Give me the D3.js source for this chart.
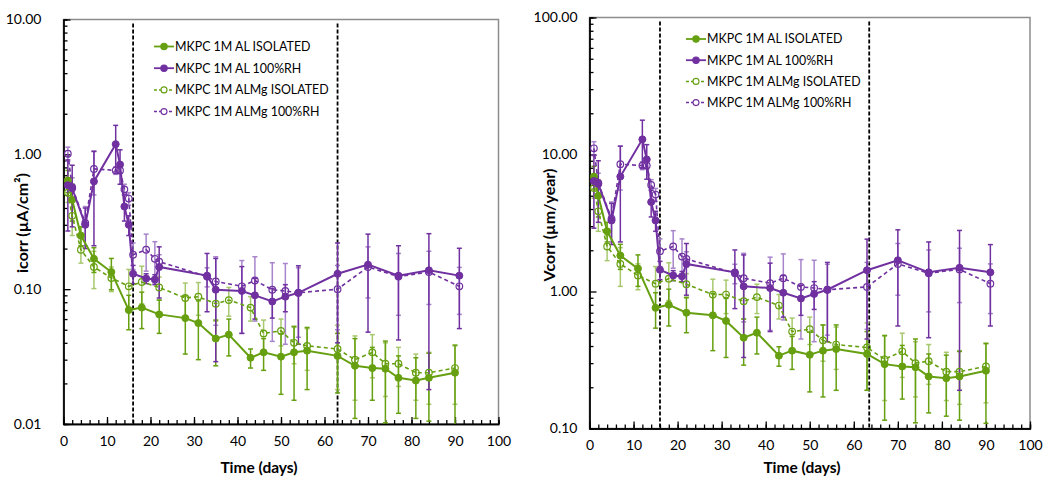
<!DOCTYPE html>
<html>
<head>
<meta charset="utf-8">
<script src="https://cdn.jsdelivr.net/npm/d3@7"></script>
<style>
  body { margin: 0; background: #fff; }
  text { font-family: Lato, "Open Sans", sans-serif; fill: #000; }
</style>
</head>
<body>
<svg id="chart" width="1062" height="478"></svg>
<script>
// ---------------- data ----------------
var legendLabels = ["MKPC 1M AL ISOLATED", "MKPC 1M AL 100%RH", "MKPC 1M ALMg ISOLATED", "MKPC 1M ALMg 100%RH"];
var xTicks = [0, 10, 20, 30, 40, 50, 60, 70, 80, 90, 100];
var stageDays = [16, 63];
var stageDaysRight = [16, 63.5];

// sampling days (isolated series / 100%RH series)
var daysIso = [1, 2, 4, 7, 11, 15, 18, 22, 28, 31, 35, 38, 43, 46, 50, 53, 56, 63, 67, 71, 74, 77, 81, 84, 90];
var daysRH = [1, 2, 5, 7, 12, 13, 14, 15, 16, 19, 21, 22, 33, 35, 41, 44, 48, 51, 54, 63, 70, 77, 84, 91];

// icorr (uA/cm2)
var icorrAlIso = [0.64, 0.46, 0.25, 0.168, 0.134, 0.070, 0.073, 0.065, 0.061, 0.056, 0.043, 0.046, 0.031, 0.034, 0.0316, 0.034, 0.035, 0.032, 0.027, 0.026, 0.0257, 0.022, 0.021, 0.022, 0.024];
var icorrAlIsoErr = [0.12, 0.14, 0.04, 0.035, 0.035, 0.02, 0.022, 0.018, 0.028, 0.026, 0.016, 0.014, 0.005, 0.009, 0.015, 0.019, 0.017, 0.015, 0.016, 0.011, 0.0155, 0.01, 0.01, 0.0115, 0.0145];
var icorrAlRH = [0.59, 0.56, 0.30, 0.63, 1.19, 0.84, 0.41, 0.30, 0.13, 0.12, 0.118, 0.146, 0.126, 0.099, 0.097, 0.090, 0.081, 0.088, 0.094, 0.13, 0.152, 0.126, 0.138, 0.126];
var icorrAlRHErr = [0.32, 0.27, 0.1, 0.42, 0.45, 0.24, 0.09, 0.05, 0.02, 0.01, 0.01, 0.06, 0.058, 0.07, 0.05, 0.03, 0.02, 0.02, 0.055, 0.09, 0.104, 0.084, 0.12, 0.075];
var icorrAlMgIso = [0.52, 0.35, 0.196, 0.146, 0.121, 0.105, 0.113, 0.103, 0.086, 0.088, 0.078, 0.083, 0.073, 0.047, 0.049, 0.040, 0.038, 0.036, 0.030, 0.034, 0.028, 0.028, 0.024, 0.024, 0.026];
var icorrAlMgIsoErr = [0.08, 0.1, 0.04, 0.045, 0.025, 0.035, 0.035, 0.02, 0.025, 0.024, 0.02, 0.02, 0.015, 0.012, 0.011, 0.012, 0.013, 0.018, 0.015, 0.012, 0.012, 0.009, 0.009, 0.01, 0.012];
var icorrAlMgRH = [1.01, 0.57, 0.31, 0.78, 0.76, 0.76, 0.55, 0.47, 0.18, 0.196, 0.168, 0.16, 0.124, 0.114, 0.105, 0.116, 0.099, 0.097, 0.094, 0.10, 0.146, 0.124, 0.134, 0.105];
var icorrAlMgRHErr = [0.12, 0.1, 0.1, 0.28, 0.05, 0.04, 0.05, 0.05, 0.04, 0.06, 0.057, 0.02, 0.02, 0.06, 0.058, 0.058, 0.058, 0.058, 0.05, 0.05, 0.06, 0.06, 0.057, 0.04];

// Vcorr (um/year)
var vcorrAlIso = [6.9, 5.0, 2.75, 1.83, 1.47, 0.76, 0.80, 0.70, 0.67, 0.61, 0.46, 0.50, 0.34, 0.37, 0.345, 0.37, 0.38, 0.35, 0.295, 0.284, 0.28, 0.24, 0.233, 0.24, 0.264];
var vcorrAlIsoErr = [1.3, 1.5, 0.45, 0.38, 0.38, 0.22, 0.24, 0.2, 0.3, 0.28, 0.17, 0.15, 0.055, 0.1, 0.16, 0.2, 0.19, 0.16, 0.18, 0.12, 0.17, 0.11, 0.11, 0.125, 0.155];
var vcorrAlRH = [6.4, 6.1, 3.3, 6.9, 12.9, 9.2, 4.5, 3.3, 1.44, 1.31, 1.29, 1.59, 1.38, 1.09, 1.06, 0.98, 0.89, 0.96, 1.03, 1.43, 1.69, 1.38, 1.49, 1.38];
var vcorrAlRHErr = [3.5, 2.9, 1.1, 4.6, 4.9, 2.6, 1.0, 0.55, 0.22, 0.11, 0.11, 0.65, 0.63, 0.76, 0.55, 0.33, 0.22, 0.22, 0.6, 0.98, 1.13, 0.92, 1.3, 0.82];
var vcorrAlMgIso = [5.7, 3.85, 2.13, 1.59, 1.31, 1.14, 1.24, 1.13, 0.95, 0.95, 0.85, 0.91, 0.79, 0.51, 0.53, 0.44, 0.41, 0.39, 0.32, 0.366, 0.30, 0.31, 0.26, 0.26, 0.284];
var vcorrAlMgIsoErr = [0.9, 1.1, 0.45, 0.5, 0.28, 0.38, 0.38, 0.22, 0.28, 0.26, 0.22, 0.22, 0.16, 0.13, 0.12, 0.13, 0.14, 0.2, 0.16, 0.13, 0.13, 0.1, 0.1, 0.11, 0.13];
var vcorrAlMgRH = [11.1, 6.2, 3.4, 8.5, 8.3, 8.3, 6.0, 5.1, 1.97, 2.13, 1.8, 1.73, 1.36, 1.25, 1.15, 1.25, 1.08, 1.06, 1.03, 1.08, 1.59, 1.36, 1.45, 1.14];
var vcorrAlMgRHErr = [1.3, 1.1, 1.1, 3.0, 0.55, 0.45, 0.55, 0.55, 0.45, 0.65, 0.62, 0.22, 0.22, 0.65, 0.63, 0.63, 0.63, 0.63, 0.55, 0.55, 0.65, 0.65, 0.62, 0.45];

// ---------------- styles ----------------
var green = "#66a010";
var greenLight = "#a8c86e";
var purple = "#7030a0";
var purpleLight = "#a784cb";

var svg = d3.select("#chart");

function makeSeries(days, vals, errs) {
  return days.map(function(d, i) { return { x: d, y: vals[i], e: errs[i] }; });
}

function drawPanel(cfg) {
  var g = svg.append("g");
  var x = d3.scaleLinear().domain([0, 100]).range([cfg.left, cfg.right]);
  var y = d3.scaleLog().domain(cfg.yDomain).range([cfg.bottom, cfg.top]);

  // frame (top/right grey)
  g.append("rect")
    .attr("x", cfg.left).attr("y", cfg.top)
    .attr("width", cfg.right - cfg.left).attr("height", cfg.bottom - cfg.top)
    .attr("fill", "none").attr("stroke", "#8c8c8c").attr("stroke-width", 1.5);

  // log ticks: majors and minors
  var majors = [], minors = [];
  var lo = Math.log10(cfg.yDomain[0]), hi = Math.log10(cfg.yDomain[1]);
  for (var p = lo; p <= hi; p++) {
    majors.push(Math.pow(10, p));
    if (p < hi) for (var k = 2; k <= 9; k++) minors.push(k * Math.pow(10, p));
  }

  var yMinor = g.append("g").attr("transform", "translate(" + cfg.left + ",0)")
    .call(d3.axisLeft(y).tickValues(minors).tickSize(-4).tickFormat(""));
  var yMajor = g.append("g").attr("transform", "translate(" + cfg.left + ",0)")
    .call(d3.axisLeft(y).tickValues(majors).tickSizeInner(-7).tickSizeOuter(0)
      .tickPadding(cfg.yLabelGap).tickFormat(d3.format(".2f")));

  var xMinor = g.append("g").attr("transform", "translate(0," + cfg.bottom + ")")
    .call(d3.axisBottom(x).tickValues(d3.range(0, 101, 2)).tickSize(-4).tickFormat(""));
  var xMajor = g.append("g").attr("transform", "translate(0," + cfg.bottom + ")")
    .call(d3.axisBottom(x).tickValues(xTicks).tickSizeInner(-7).tickSizeOuter(0).tickPadding(12));

  [yMinor, yMajor, xMinor, xMajor].forEach(function(a) {
    a.selectAll("path, line").attr("stroke", "#000").attr("stroke-width", 1.3);
    a.selectAll("text").style("font-size", "14px");
  });

  // stage separators
  g.selectAll(".stage").data(cfg.stages).enter().append("line")
    .attr("x1", function(d) { return x(d); }).attr("x2", function(d) { return x(d); })
    .attr("y1", cfg.top + 4).attr("y2", cfg.bottom)
    .attr("stroke", "#000").attr("stroke-width", 1.8).attr("stroke-dasharray", "4,2");

  var series = [
    { data: makeSeries(daysIso, cfg.vals[0], cfg.errs[0]), color: green, errColor: green, dash: null, open: false },
    { data: makeSeries(daysRH, cfg.vals[1], cfg.errs[1]), color: purple, errColor: purple, dash: null, open: false },
    { data: makeSeries(daysIso, cfg.vals[2], cfg.errs[2]), color: green, errColor: greenLight, dash: "4,3", open: true },
    { data: makeSeries(daysRH, cfg.vals[3], cfg.errs[3]), color: purple, errColor: purpleLight, dash: "4,3", open: true }
  ];

  var yMin = cfg.yDomain[0];
  // error bars (lighter ones first)
  [2, 3, 0, 1].forEach(function(si) {
    var s = series[si];
    var eg = g.append("g").attr("stroke", s.errColor).attr("stroke-width", 1.5);
    s.data.forEach(function(d) {
      var yHi = y(d.y + d.e);
      var yLo = y(Math.max(d.y - d.e, yMin));
      var cx = x(d.x);
      eg.append("line").attr("x1", cx).attr("x2", cx).attr("y1", yHi).attr("y2", yLo);
      eg.append("line").attr("x1", cx - 2.5).attr("x2", cx + 2.5).attr("y1", yHi).attr("y2", yHi);
      if (d.y - d.e > yMin) eg.append("line").attr("x1", cx - 2.5).attr("x2", cx + 2.5).attr("y1", yLo).attr("y2", yLo);
    });
  });

  var line = d3.line().x(function(d) { return x(d.x); }).y(function(d) { return y(d.y); });

  [2, 3, 0, 1].forEach(function(si) {
    var s = series[si];
    g.append("path").datum(s.data)
      .attr("d", line).attr("fill", "none")
      .attr("stroke", s.color).attr("stroke-width", s.open ? 1.6 : 2)
      .attr("stroke-dasharray", s.dash);
    g.append("g").selectAll("circle").data(s.data).enter().append("circle")
      .attr("cx", function(d) { return x(d.x); })
      .attr("cy", function(d) { return y(d.y); })
      .attr("r", s.open ? 3.3 : 3.5)
      .attr("fill", s.open ? "none" : s.color)
      .attr("stroke", s.color).attr("stroke-width", s.open ? 1.2 : 1);
  });

  // legend
  var lg = g.append("g").attr("transform", "translate(" + cfg.legendX + "," + cfg.legendY + ")");
  series.forEach(function(s, i) {
    var row = lg.append("g").attr("transform", "translate(0," + i * cfg.legendStep + ")");
    row.append("line").attr("x1", 0).attr("x2", 20).attr("y1", 0).attr("y2", 0)
      .attr("stroke", s.color).attr("stroke-width", s.open ? 1.5 : 1.8)
      .attr("stroke-dasharray", s.dash ? "3,2" : null);
    row.append("circle").attr("cx", 10).attr("cy", 0).attr("r", s.open ? 3 : 3.2)
      .attr("fill", s.open ? "#fff" : s.color).attr("stroke", s.color).attr("stroke-width", 1.1);
    row.append("text").attr("x", 21).attr("y", 0).attr("dy", "0.35em")
      .style("font-size", "12.4px").text(legendLabels[i]);
  });

  // axis titles
  g.append("text")
    .attr("transform", "translate(" + cfg.yTitleX + "," + cfg.yTitleY + ") rotate(-90)")
    .attr("text-anchor", "middle").attr("dy", "0.35em")
    .style("font-size", "16px").style("font-weight", "bold")
    .text(cfg.yTitle);
  g.append("text")
    .attr("x", cfg.xTitleX).attr("y", cfg.xTitleY)
    .attr("text-anchor", "middle").attr("dy", "0.35em")
    .style("font-size", "15.5px").style("font-weight", "bold")
    .text("Time (days)");
}

drawPanel({
  left: 63.5, right: 498.5, top: 19.5, bottom: 424,
  yDomain: [0.01, 10], yLabelGap: 22,
  stages: stageDays,
  vals: [icorrAlIso, icorrAlRH, icorrAlMgIso, icorrAlMgRH],
  errs: [icorrAlIsoErr, icorrAlRHErr, icorrAlMgIsoErr, icorrAlMgRHErr],
  legendX: 154, legendY: 46.5, legendStep: 21.7,
  yTitle: "icorr (µA/cm²)", yTitleX: 22, yTitleY: 223,
  xTitleX: 259, xTitleY: 468
});

drawPanel({
  left: 589.5, right: 1030, top: 17.5, bottom: 428.5,
  yDomain: [0.1, 100], yLabelGap: 12,
  stages: stageDaysRight,
  vals: [vcorrAlIso, vcorrAlRH, vcorrAlMgIso, vcorrAlMgRH],
  errs: [vcorrAlIsoErr, vcorrAlRHErr, vcorrAlMgIsoErr, vcorrAlMgRHErr],
  legendX: 686, legendY: 39, legendStep: 21.2,
  yTitle: "Vcorr (µm/year)", yTitleX: 549, yTitleY: 225,
  xTitleX: 802, xTitleY: 468
});
</script>
</body>
</html>
